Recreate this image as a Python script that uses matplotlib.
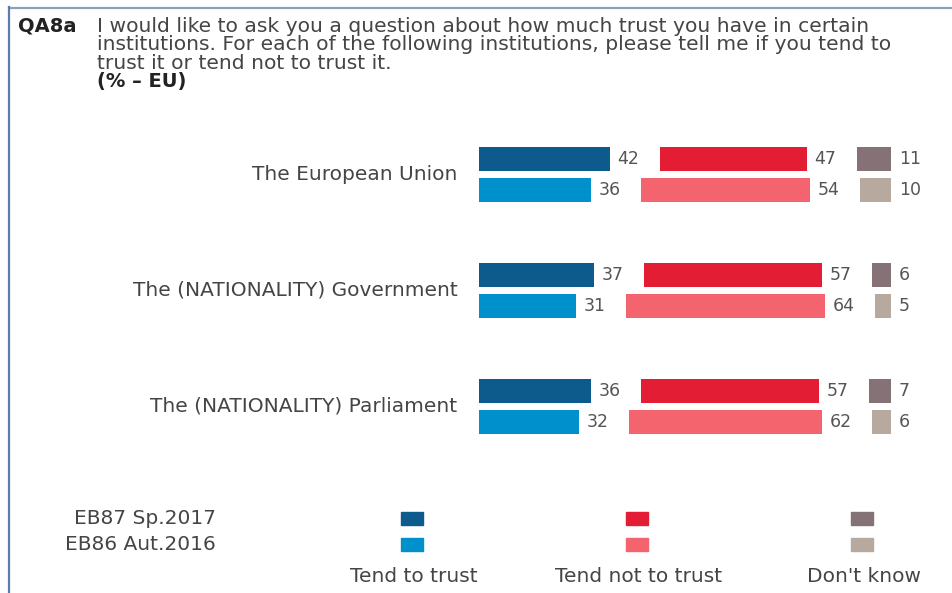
import matplotlib
matplotlib.use("Agg")
import matplotlib.pyplot as plt
from matplotlib.patches import Rectangle
from matplotlib.lines import Line2D

# data
institutions = ["The European Union", "The (NATIONALITY) Government", "The (NATIONALITY) Parliament"]
waves = ["EB87 Sp.2017", "EB86 Aut.2016"]
answers = ["Tend to trust", "Tend not to trust", "Don't know"]
trust_2017 = [42, 37, 36]
trust_2016 = [36, 31, 32]
not_trust_2017 = [47, 57, 57]
not_trust_2016 = [54, 64, 62]
dont_know_2017 = [11, 6, 7]
dont_know_2016 = [10, 5, 6]

colors_2017 = ["#0d5b8c", "#e31d33", "#857277"]
colors_2016 = ["#0090cb", "#f4646f", "#b8a99f"]
text_col = "#454545"

W, H = 952, 593
fig = plt.figure(figsize=(W / 100, H / 100), dpi=100)
fig.patch.set_facecolor("white")
plt.rcParams['font.family'] = ['DejaVu Sans']

def px(x0, y0, x1, y1):
    # pixel box -> figure fraction rect
    return [x0 / W, 1 - y1 / H, (x1 - x0) / W, (y1 - y0) / H]

# frame lines
fig.add_artist(Line2D([9 / W, 1], [1 - 7.5 / H, 1 - 7.5 / H], color="#8aa1ba", lw=1.6))
fig.add_artist(Line2D([9 / W, 9 / W], [0, 1 - 7 / H], color="#5a7dae", lw=1.6))

# question text
fig.text(18 / W, 1 - 32 / H, "QA8a", fontsize=14, fontweight="bold", color="#222222", va="baseline")
q_lines = ["I would like to ask you a question about how much trust you have in certain",
           "institutions. For each of the following institutions, please tell me if you tend to",
           "trust it or tend not to trust it."]
for i, line in enumerate(q_lines):
    fig.text(97 / W, 1 - (32 + 18.3 * i) / H, line, fontsize=14.6, color=text_col, va="baseline")
fig.text(97 / W, 1 - 87 / H, "(% \u2013 EU)", fontsize=14, fontweight="bold", color="#222222", va="baseline")

# bars
scale = 3.12  # px per percentage point
gap = 50 / scale
ax = fig.add_axes(px(479, 116.6, 952, 463.9))
ax.set_xlim(0, 473 / scale)
ax.set_ylim(2.5, -0.5)
ax.axis("off")

bar_h = 24 / 115.75
off = 15.5 / 115.75
ypos = list(range(len(institutions)))

for vals, cols, sign in [((trust_2017, not_trust_2017, dont_know_2017), colors_2017, -1),
                         ((trust_2016, not_trust_2016, dont_know_2016), colors_2016, 1)]:
    t, n, d = vals
    left_t = [0] * len(t)
    left_n = [a + gap for a in t]
    left_d = [a + b + 2 * gap for a, b in zip(t, n)]
    y = [p + sign * off for p in ypos]
    for v, lft, c in [(t, left_t, cols[0]), (n, left_n, cols[1]), (d, left_d, cols[2])]:
        bars = ax.barh(y, v, left=lft, height=bar_h, color=c)
        for b, val in zip(bars, v):
            ax.annotate(str(val), (b.get_x() + b.get_width(), b.get_y() + b.get_height() / 2),
                        xytext=(5.5, 0), textcoords="offset points", va="center", ha="left",
                        fontsize=12.5, color="#555555")

for yy, name in zip(ypos, institutions):
    ax.annotate(name, (0, yy), xytext=(-15.5, 0), textcoords="offset points",
                ha="right", va="center", fontsize=14.5, color=text_col, annotation_clip=False)

# legend
lax = fig.add_axes([0, 0, 1, 1])
lax.set_xlim(0, W)
lax.set_ylim(H, 0)
lax.axis("off")
row_y = [518, 544]
col_x = [412, 637, 862]
for r, (wave, cols) in enumerate(zip(waves, [colors_2017, colors_2016])):
    lax.text(216, row_y[r], wave, ha="right", va="center", fontsize=14.5, color=text_col)
    for cx, c in zip(col_x, cols):
        lax.add_patch(Rectangle((cx - 11, row_y[r] - 6.5), 22, 13, color=c))
for cx, a in zip(col_x, answers):
    lax.text(cx + 2, 577, a, ha="center", va="center", fontsize=14.5, color=text_col)

fig.savefig("out.png", dpi=100, facecolor="white")
